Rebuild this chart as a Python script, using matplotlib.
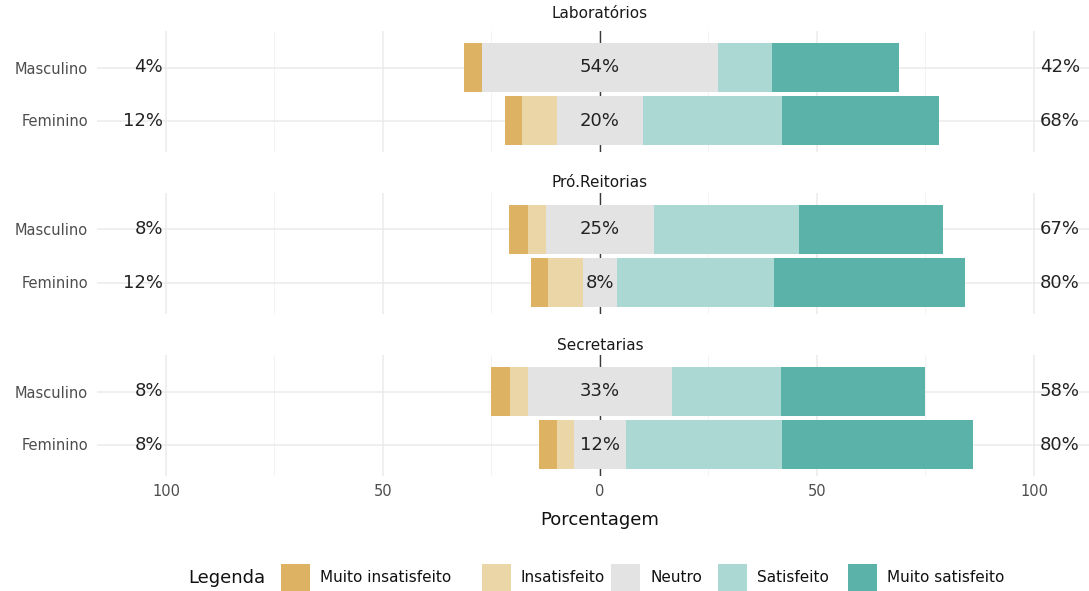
import matplotlib
matplotlib.use("Agg")
import matplotlib.pyplot as plt
from matplotlib.patches import Rectangle

# ---------------- data ----------------
groups = ["Laboratórios", "Pró.Reitorias", "Secretarias"]
rows = ["Masculino", "Feminino"]
levels = ["Muito insatisfeito", "Insatisfeito", "Neutro", "Satisfeito", "Muito satisfeito"]

# percentages per row (Lab M, Lab F, Pró M, Pró F, Sec M, Sec F)
muito_insat = [4.2, 4.0, 4.2, 4.0, 4.2, 4.0]
insat = [0.0, 8.0, 4.2, 8.0, 4.2, 4.0]
neutro = [54.2, 20.0, 25.0, 8.0, 33.3, 12.0]
satisf = [12.5, 32.0, 33.3, 36.0, 25.0, 36.0]
muito_satisf = [29.2, 36.0, 33.3, 44.0, 33.3, 44.0]

low_labels = ["4%", "12%", "8%", "12%", "8%", "8%"]
neutral_labels = ["54%", "20%", "25%", "8%", "33%", "12%"]
high_labels = ["42%", "68%", "67%", "80%", "58%", "80%"]

tick_values = [-100, -50, 0, 50, 100]
tick_labels = ["100", "50", "0", "50", "100"]
minor_ticks = [-75, -25, 25, 75]

colors = ["#DDB262", "#EBD6A8", "#E3E3E3", "#ABD8D3", "#5BB2A9"]

# ---------------- layout ----------------
W, H = 1089, 591
fig = plt.figure(figsize=(W / 100, H / 100), dpi=100)
plt.rcParams["font.family"] = ["DejaVu Sans"]

X0, SC = 600.0, 4.34          # pixel of zero, pixels per percent
AX_L, AX_R = 97, 1089
xlim = ((AX_L - X0) / SC, (AX_R - X0) / SC)
panel_tops = [31, 193, 355]
panel_h = 121
unit = 53.0
ylim = (1 + 31.5 / unit, -36.5 / unit)
strip_y = [13, 183, 345]

low_x = (163 - X0) / SC
high_x = (1040 - X0) / SC

for g, top in enumerate(panel_tops):
    ax = fig.add_axes([AX_L / W, 1 - (top + panel_h) / H, (AX_R - AX_L) / W, panel_h / H])
    ax.set_xlim(*xlim)
    ax.set_ylim(*ylim)
    for s in ax.spines.values():
        s.set_visible(False)
    ax.set_xticks(tick_values)
    ax.set_xticks(minor_ticks, minor=True)
    ax.set_yticks([0, 1])
    ax.set_yticklabels(rows)
    ax.grid(True, which="major", color="#EBEBEB", lw=1.1)
    ax.grid(True, which="minor", axis="x", color="#F3F3F3", lw=0.7)
    ax.set_axisbelow(True)
    ax.tick_params(axis="y", length=0, pad=6.5, labelsize=10.5, labelcolor="#4D4D4D")
    ax.tick_params(axis="x", which="both", length=0)
    if g == len(panel_tops) - 1:
        ax.set_xticklabels(tick_labels)
        ax.tick_params(axis="x", labelsize=10.5, labelcolor="#4D4D4D", pad=6)
    else:
        ax.tick_params(axis="x", labelbottom=False)

    ax.axvline(0, color="#3A3A3A", lw=1.0, zorder=1.5)

    for r in range(2):
        i = g * 2 + r
        vals = [muito_insat[i], insat[i], neutro[i], satisf[i], muito_satisf[i]]
        half = vals[2] / 2
        lefts = [-half - vals[1] - vals[0], -half - vals[1], -half, half, half + vals[3]]
        for k in range(5):
            if vals[k] > 0:
                ax.barh(r, vals[k], left=lefts[k], height=0.92, color=colors[k],
                        edgecolor="none", zorder=2)
        ax.text(0, r, neutral_labels[i], ha="center", va="center", fontsize=13,
                color="#222222", zorder=3)
        ax.text(low_x, r, low_labels[i], ha="right", va="center", fontsize=13,
                color="#222222", zorder=3)
        ax.text(high_x, r, high_labels[i], ha="left", va="center", fontsize=13,
                color="#222222", zorder=3)

    fig.text(X0 / W, 1 - strip_y[g] / H, groups[g], ha="center", va="center",
             fontsize=11, color="#1A1A1A")

fig.text(X0 / W, 1 - 520 / H, "Porcentagem", ha="center", va="center",
         fontsize=13, color="#111111")

# ---------------- legend ----------------
lax = fig.add_axes([0, 0, 1, 1])
lax.set_xlim(0, W)
lax.set_ylim(H, 0)
lax.axis("off")
lax.patch.set_alpha(0)
lax.text(188, 578, "Legenda", ha="left", va="center", fontsize=13, color="#111111")
patch_x = [281, 482, 611, 718, 848]
for k in range(5):
    lax.add_patch(Rectangle((patch_x[k], 564), 29, 27, color=colors[k], lw=0))
    lax.text(patch_x[k] + 39, 578, levels[k], ha="left", va="center",
             fontsize=11, color="#111111")

fig.savefig("out.png", dpi=100)
